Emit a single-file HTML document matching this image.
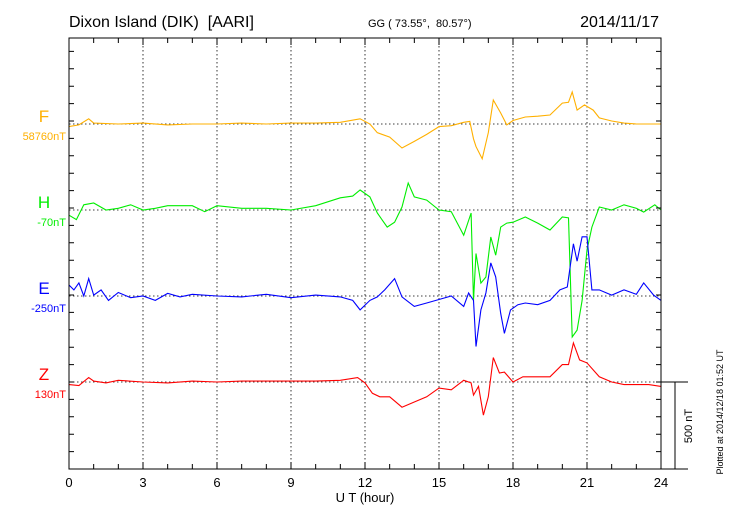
<!DOCTYPE html>
<html><head><meta charset="utf-8"><style>
body{margin:0;background:#fff;}
svg text{font-family:"Liberation Sans",sans-serif;}
</style></head><body>
<svg id="c" width="730" height="520" xmlns="http://www.w3.org/2000/svg">
<rect width="730" height="520" fill="#fff"/>
<text x="69" y="27" font-size="16">Dixon Island (DIK)&#160; [AARI]</text>
<text x="368" y="27" font-size="11">GG ( 73.55°,&#160; 80.57°)</text>
<text x="659" y="27" font-size="16" text-anchor="end">2014/11/17</text>
<text x="365" y="502" font-size="13" text-anchor="middle">U T (hour)</text>
<text transform="translate(723,412) rotate(-90)" font-size="9" text-anchor="middle">Plotted at 2014/12/18 01:52 UT</text>
<text transform="translate(692,426) rotate(-90)" font-size="11" text-anchor="middle">500 nT</text>
<g id="grid"></g><g id="series"></g><g id="axes"></g>
</svg>
<script>
const tickLabels=["0","3","6","9","12","15","18","21","24"];
const seriesNames=["F","H","E","Z"];
const baselineLabels=["58760nT","-70nT","-250nT","130nT"];
const fT=[0,0.4,0.8,1,2,3,4,5,6,7,8,9,10,11,11.8,12.2,12.5,13,13.5,14,14.5,15,15.5,16,16.25,16.4,16.5,16.75,17,17.2,17.5,17.75,18,18.5,19,19.5,20,20.25,20.4,20.6,20.9,21.25,21.5,22,22.5,23,24];
const fV=[-15,-5,30,5,0,5,-5,0,0,5,0,5,5,10,30,0,-50,-75,-138,-100,-60,-15,-10,10,15,-85,-130,-200,-50,138,63,-5,20,40,45,52,120,125,184,80,110,80,35,17,5,0,0];
const hT=[0,0.3,0.6,1,1.5,2,2.5,3,3.5,4,5,5.5,6,7,8,9,10,11,11.5,11.8,12.2,12.5,12.9,13.2,13.5,13.75,14,14.5,15,15.5,16,16.3,16.4,16.5,16.7,16.9,17.1,17.3,17.5,17.75,18,18.5,19,19.5,20,20.25,20.4,20.6,20.8,21,21.2,21.5,22,22.5,23,23.3,23.75,24];
const hV=[-30,-55,30,40,0,10,30,0,10,25,25,-10,25,10,10,0,25,70,80,115,75,-17,-98,-70,17,155,75,57,0,-10,-145,-17,-520,-250,-420,-385,-155,-260,-98,-75,-70,-40,-75,-115,-40,-45,-730,-690,-520,-230,-98,17,0,30,10,-12,30,0];
const eT=[0,0.2,0.4,0.6,0.8,1,1.3,1.6,2,2.5,3,3.5,4,4.5,5,6,7,8,9,10,11,11.5,11.8,12.2,12.5,12.8,13.2,13.5,14,14.5,15,15.5,16,16.2,16.4,16.5,16.7,16.9,17.1,17.3,17.5,17.65,17.9,18.2,18.5,19,19.5,19.9,20.2,20.45,20.6,20.8,21,21.2,21.5,22,22.5,23,23.3,23.7,24];
const eV=[63,35,75,0,100,5,35,-25,20,-10,0,-25,15,-5,10,0,-5,10,-10,5,-5,-25,-80,-25,-5,35,100,-5,-60,-40,-20,0,-60,17,-25,-290,-80,17,190,110,-100,-215,-80,-50,-40,-50,-25,35,52,300,200,340,340,35,35,5,35,10,75,5,-25];
const zT=[0,0.4,0.8,1,1.5,2,3,4,5,6,7,8,9,10,11,11.7,12,12.3,12.6,13,13.5,14,14.5,15,15.5,16,16.3,16.4,16.6,16.8,17,17.2,17.45,17.65,18,18.4,19,19.5,20,20.25,20.45,20.7,21,21.5,22,22.5,23,23.5,24];
const zV=[-15,-20,25,5,-5,10,0,-5,5,0,5,5,5,5,10,25,-5,-65,-85,-85,-145,-115,-85,-35,-45,10,-5,-75,-25,-190,-85,140,52,57,0,30,30,30,100,100,225,127,110,30,0,-15,-15,-15,-25];
const TS=[fT,hT,eT,zT], VS=[fV,hV,eV,zV];
const colors=["#ffb000","#00ee00","#0000ff","#ff0000"];
const baseY=[124,210,296,382];
const X0=69,X1=661,Y0=38,Y1=469,PXNT=87/500;
const xs=h=>X0+(X1-X0)*h/24;
const ys=(i,v)=>baseY[i]-v*PXNT;
const NS="http://www.w3.org/2000/svg";
function mk(tag,parent){const e=document.createElementNS(NS,tag);document.getElementById(parent).appendChild(e);return e;}
for(let h=3;h<24;h+=3){const l=mk('line','grid');l.setAttribute('x1',xs(h));l.setAttribute('x2',xs(h));l.setAttribute('y1',Y0);l.setAttribute('y2',Y1);l.setAttribute('stroke','#000');l.setAttribute('stroke-width','0.8');l.setAttribute('stroke-dasharray','1.5,2.5');

}
for(let i=0;i<4;i++){const l=mk('line','grid');l.setAttribute('x1',X0);l.setAttribute('x2',X1);l.setAttribute('y1',baseY[i]);l.setAttribute('y2',baseY[i]);l.setAttribute('stroke','#000');l.setAttribute('stroke-width','0.8');l.setAttribute('stroke-dasharray','1.5,2.5');

}
for(let i=0;i<4;i++){const p=mk('polyline','series');p.setAttribute('points',TS[i].map((t,k)=>xs(t).toFixed(1)+','+ys(i,VS[i][k]).toFixed(1)).join(' '));p.setAttribute('fill','none');p.setAttribute('stroke',colors[i]);p.setAttribute('stroke-width','1.1');


const t=mk('text','axes');t.textContent=seriesNames[i];t.setAttribute('x',44);t.setAttribute('y',baseY[i]-2);t.setAttribute('font-size','17');t.setAttribute('text-anchor','middle');t.setAttribute('fill',colors[i]);


const b=mk('text','axes');b.textContent=baselineLabels[i];b.setAttribute('x',66);b.setAttribute('y',baseY[i]+16);b.setAttribute('font-size','11');b.setAttribute('text-anchor','end');b.setAttribute('fill',colors[i]);

}
const fr=mk('rect','axes');fr.setAttribute('x',X0);fr.setAttribute('y',Y0);fr.setAttribute('width',X1-X0);fr.setAttribute('height',Y1-Y0);fr.setAttribute('fill','none');fr.setAttribute('stroke','#000');fr.setAttribute('stroke-width','1');


let d='';
for(let h=1;h<24;h++){const L=h%3==0?7:5;d+=`M${xs(h)},${Y0}v${L}M${xs(h)},${Y1}v${-L}`;}
for(let y=Y1-17.4;y>Y0+2;y-=17.4){d+=`M${X0},${y}h5M${X1},${y}h-5`;}
d+=`M${X1},382h27M675,382V469M661,469h27`;
const tk=mk('path','axes');tk.setAttribute('d',d);tk.setAttribute('stroke','#000');tk.setAttribute('stroke-width','1');tk.setAttribute('fill','none');


tickLabels.forEach((s,k)=>{const t=mk('text','axes');t.textContent=s;t.setAttribute('x',xs(+s));t.setAttribute('y',487);t.setAttribute('font-size','13');t.setAttribute('text-anchor','middle');

});
</script>
</body></html>
